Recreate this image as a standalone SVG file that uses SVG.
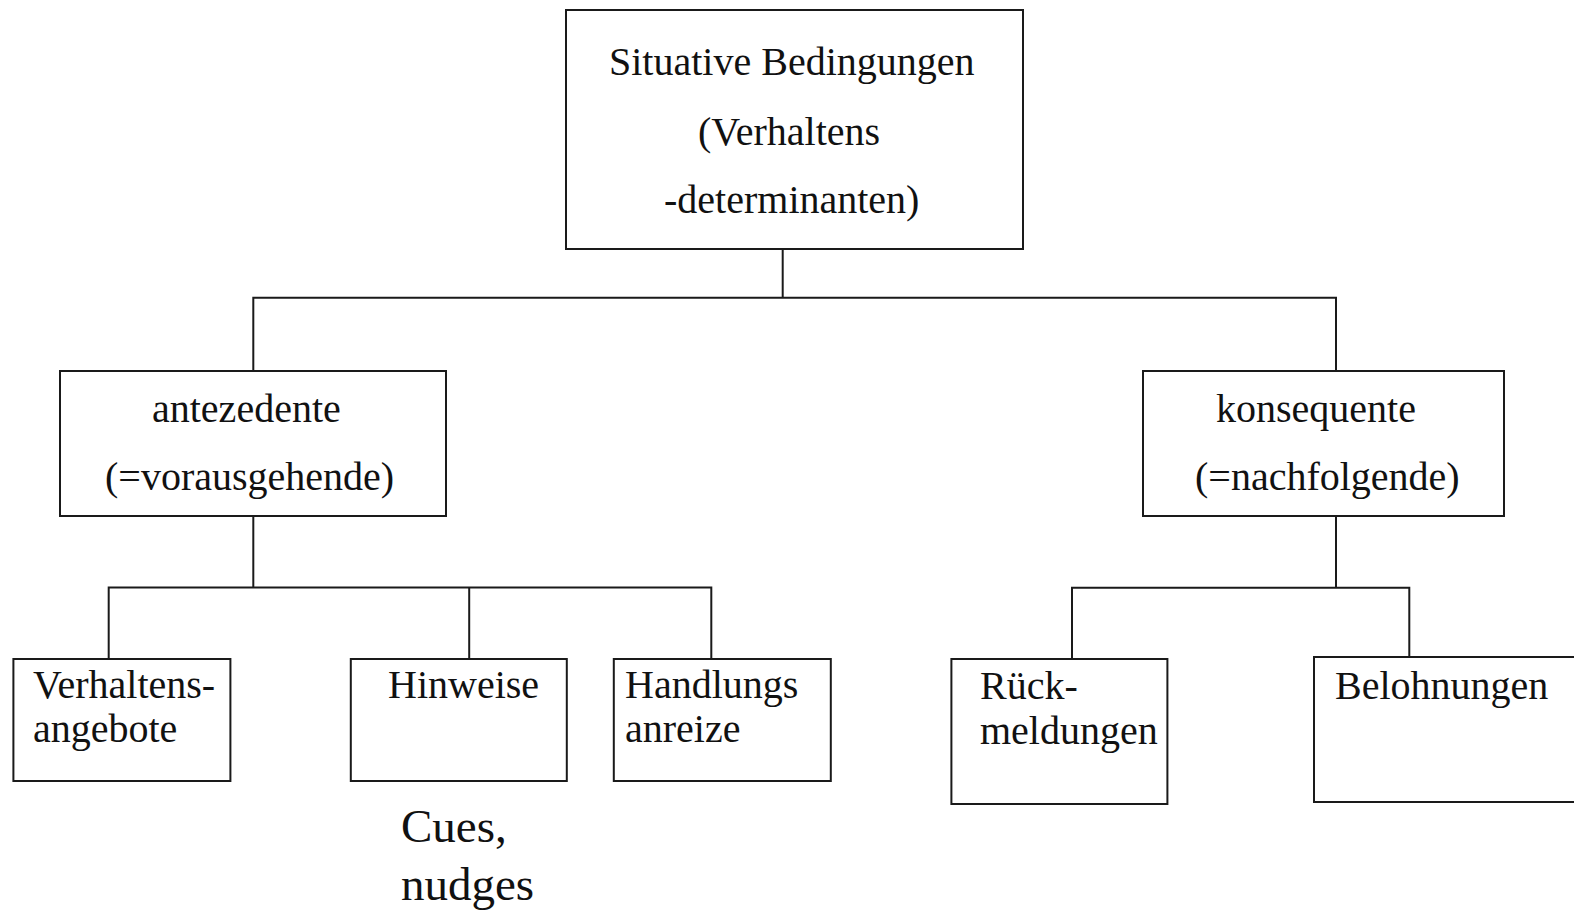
<svg xmlns="http://www.w3.org/2000/svg" width="1574" height="912" viewBox="0 0 1574 912">
<style>
.box{fill:#fff;stroke:#1a1a1a;stroke-width:2}
.con{fill:none;stroke:#1a1a1a;stroke-width:2}
text{font-family:"Liberation Serif","Times New Roman",serif;font-size:40px;fill:#111}
.big{font-size:47px}
</style>
<rect width="1574" height="912" fill="#fff"/>
<g id="connectors">
<path class="con" d="M782.7 249 V297.7"/>
<path class="con" d="M253.3 371 V297.7 H1336 V371"/>
<path class="con" d="M253.3 516 V587.5"/>
<path class="con" d="M108.7 659 V587.5 H711.3 V659"/>
<path class="con" d="M469.2 587.5 V659"/>
<path class="con" d="M1336 516 V587.7"/>
<path class="con" d="M1072 659 V587.7 H1409.3 V657"/>
</g>
<g id="situative">
<rect class="box" x="566" y="10" width="457" height="239"/>
<text x="609" y="75">Situative Bedingungen</text>
<text x="698" y="145">(Verhaltens</text>
<text x="664" y="213">-determinanten)</text>
</g>
<g id="antezedente">
<rect class="box" x="60" y="371" width="386" height="145"/>
<text x="152" y="421.5">antezedente</text>
<text x="105" y="490">(=vorausgehende)</text>
</g>
<g id="konsequente">
<rect class="box" x="1143" y="371" width="361" height="145"/>
<text x="1216" y="421.5">konsequente</text>
<text x="1195" y="490">(=nachfolgende)</text>
</g>
<g id="verhaltensangebote">
<rect class="box" x="13.4" y="659" width="217" height="122"/>
<text x="33" y="698">Verhaltens-</text>
<text x="33" y="742">angebote</text>
</g>
<g id="hinweise">
<rect class="box" x="350.8" y="659" width="216" height="122"/>
<text x="388" y="698">Hinweise</text>
</g>
<g id="handlungsanreize">
<rect class="box" x="613.8" y="659" width="217" height="122"/>
<text x="625" y="698">Handlungs</text>
<text x="625" y="742">anreize</text>
</g>
<g id="rueckmeldungen">
<rect class="box" x="951.4" y="659" width="216" height="145"/>
<text x="980" y="699">Rück-</text>
<text x="980" y="744">meldungen</text>
</g>
<g id="belohnungen">
<rect class="box" x="1314" y="657" width="300" height="145"/>
<text x="1335" y="699">Belohnungen</text>
</g>
<g id="cues">
<text class="big" x="401" y="842">Cues,</text>
<text class="big" x="401" y="900">nudges</text>
</g>
</svg>
